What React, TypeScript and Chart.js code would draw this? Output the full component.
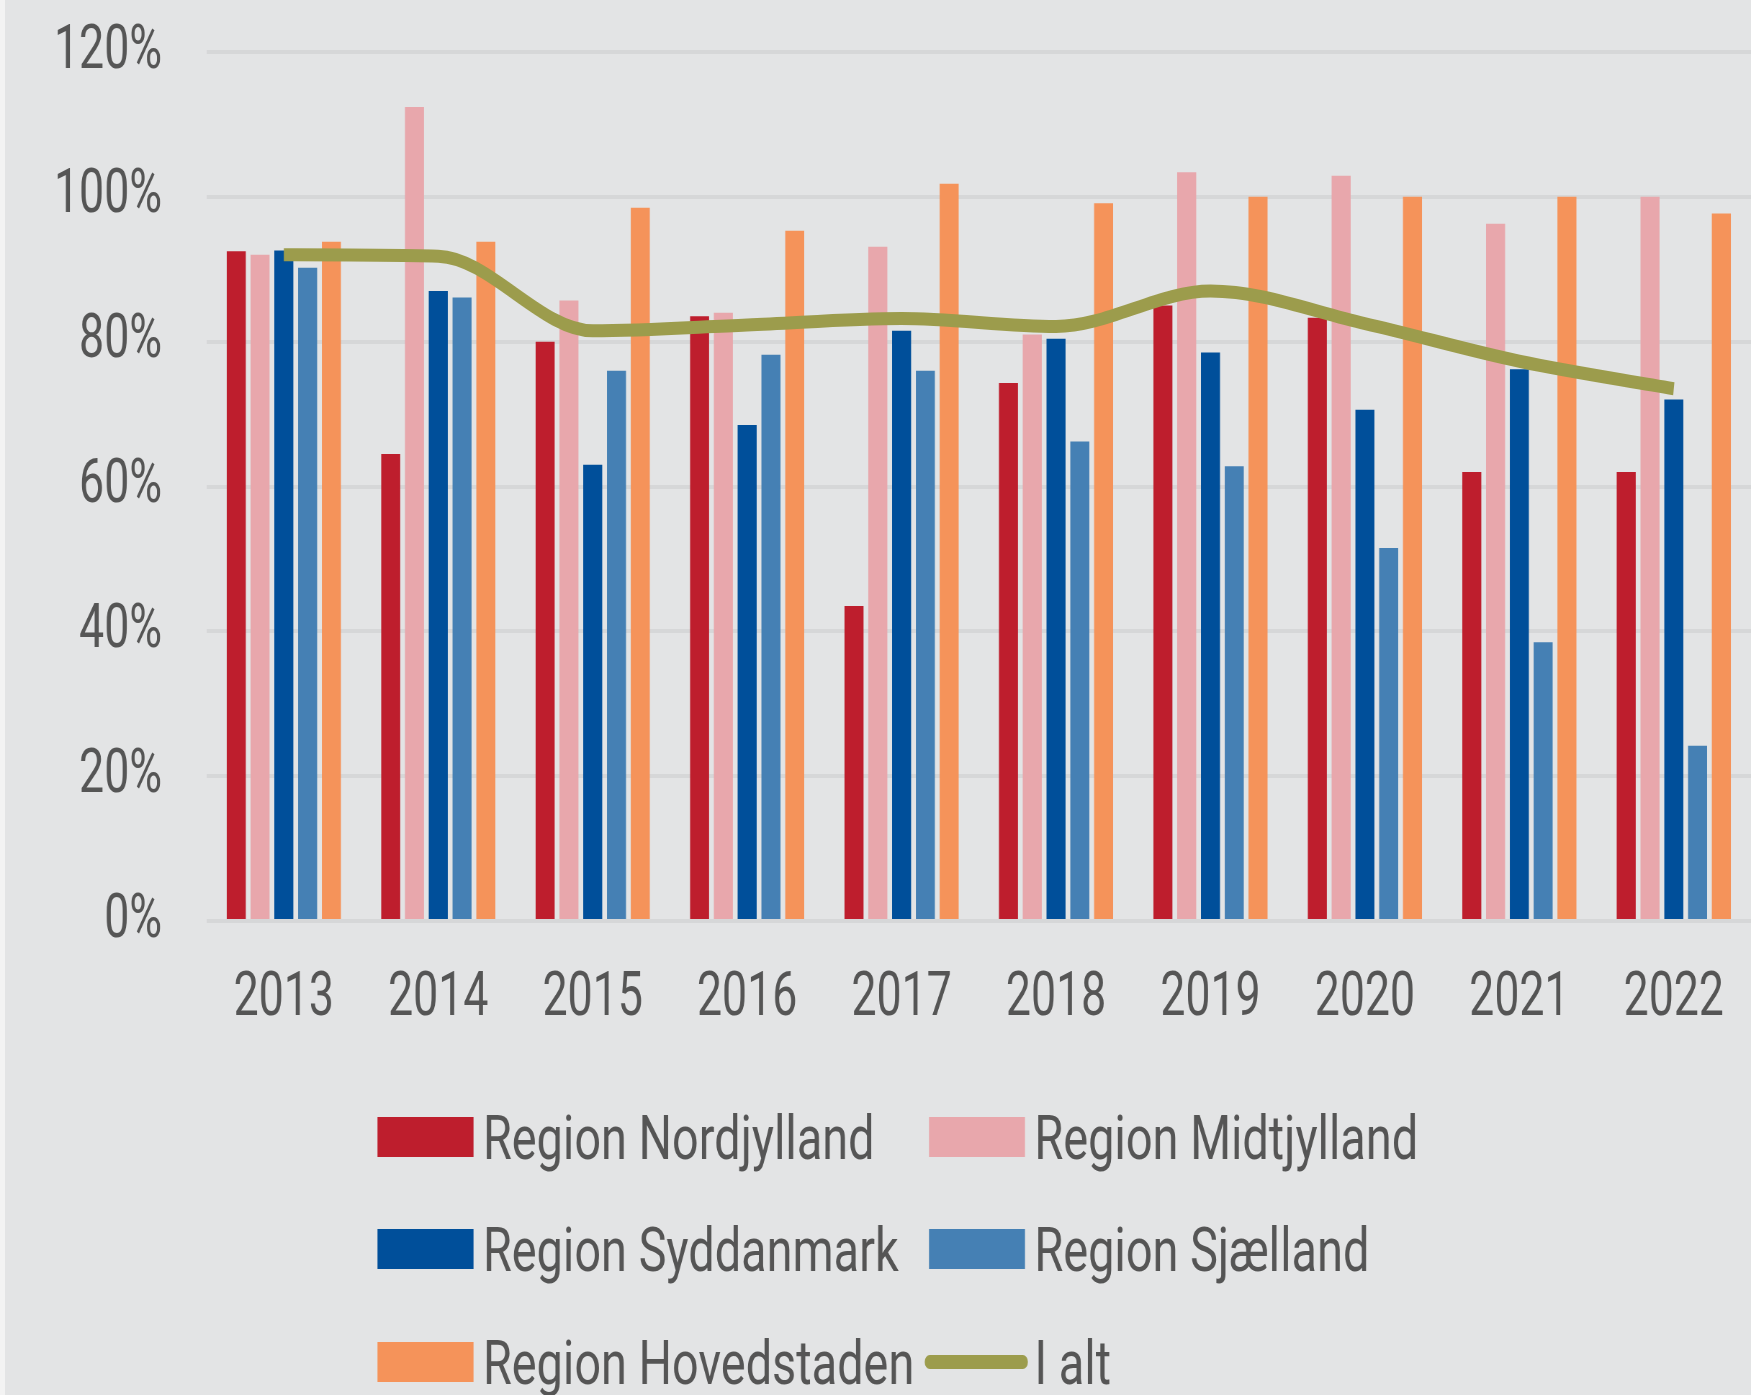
import React, { useEffect, useRef } from "react";
import { Chart, registerables } from "chart.js";

Chart.register(...registerables);

// ---------------- data ----------------
const years = ["2013", "2014", "2015", "2016", "2017", "2018", "2019", "2020", "2021", "2022"];
const nordjylland = [92.5, 64.5, 80.0, 83.5, 43.5, 74.3, 85.0, 83.3, 62.0, 62.0];
const midtjylland = [92.0, 112.4, 85.7, 84.0, 93.1, 81.0, 103.4, 102.9, 96.3, 100.0];
const syddanmark = [92.6, 87.0, 63.0, 68.5, 81.5, 80.4, 78.5, 70.6, 76.2, 72.0];
const sjaelland = [90.2, 86.1, 76.0, 78.2, 76.0, 66.2, 62.8, 51.5, 38.5, 24.2];
const hovedstaden = [93.8, 93.8, 98.5, 95.3, 101.8, 99.1, 100.0, 100.0, 100.0, 97.7];
const iAlt = [92.0, 91.8, 81.5, 82.3, 83.2, 82.1, 87.0, 82.5, 77.3, 73.5];
const yTicks = [0, 20, 40, 60, 80, 100, 120];
const seriesLabels = [
  "Region Nordjylland",
  "Region Midtjylland",
  "Region Syddanmark",
  "Region Sjælland",
  "Region Hovedstaden",
  "I alt",
];

// ---------------- layout / style ----------------
const W_FULL = 1751;
const H = 1395;
const W_PRE = 2432; // canvas drawn wider, then condensed horizontally
const K = W_FULL / W_PRE;
const px = (xFull: number) => xFull / K;

const BG = "#e3e4e5";
const GRID = "#d6d7d8";
const TEXT = "#555555";
const FONT = "Roboto";
const FS = 62;
const colors = ["#be1e2d", "#e8a7ac", "#004f9a", "#4580b4", "#f5935a", "#9c9c4c"];

const AREA_LEFT = px(206.6);
const TOP_PAD = 52;
const AREA_BOTTOM = 921;

const LEG_COL_X = [px(377.5), px(929)];
const LEG_ROW_Y = [1137, 1249, 1362];
const LEG_BOX_W = px(96);
const LEG_BOX_H = 40;
const LEG_GAP = 13;
const LEG_TEXT_STRETCH = 1.05;

const gridLegend = {
  id: "gridLegend",
  afterDraw(chart: any) {
    const ctx = chart.ctx as CanvasRenderingContext2D;
    const ds = chart.data.datasets;
    ctx.save();
    ctx.font = `${FS}px ${FONT}`;
    ctx.textBaseline = "alphabetic";
    ctx.textAlign = "left";
    ds.forEach((d: any, i: number) => {
      const col = i % 2;
      const row = Math.floor(i / 2);
      const bx = LEG_COL_X[col];
      const cy = LEG_ROW_Y[row];
      if (d.type === "line") {
        ctx.strokeStyle = d.borderColor;
        ctx.lineWidth = 14;
        ctx.lineCap = "round";
        ctx.beginPath();
        ctx.moveTo(bx + 1, cy);
        ctx.lineTo(bx + LEG_BOX_W - 3, cy);
        ctx.stroke();
      } else {
        ctx.fillStyle = d.backgroundColor;
        ctx.fillRect(bx, cy - LEG_BOX_H / 2, LEG_BOX_W, LEG_BOX_H);
      }
      ctx.save();
      ctx.translate(bx + LEG_BOX_W + LEG_GAP, cy + (FS * 0.711) / 2);
      ctx.scale(LEG_TEXT_STRETCH, 1);
      ctx.fillStyle = TEXT;
      ctx.fillText(d.label, 0, 0);
      ctx.restore();
    });
    ctx.restore();
  },
};

export default function App() {
  const ref = useRef<HTMLCanvasElement | null>(null);

  useEffect(() => {
    if (!ref.current) return;
    const barSeries = [nordjylland, midtjylland, syddanmark, sjaelland, hovedstaden];
    const datasets: any[] = barSeries.map((data, i) => ({
      type: "bar",
      label: seriesLabels[i],
      data,
      backgroundColor: colors[i],
      borderWidth: 0,
      categoryPercentage: 0.77,
      barPercentage: 0.8,
      order: 1,
    }));
    datasets.push({
      type: "line",
      label: seriesLabels[5],
      data: iAlt,
      borderColor: colors[5],
      backgroundColor: colors[5],
      borderWidth: 13,
      pointRadius: 0,
      pointHoverRadius: 0,
      cubicInterpolationMode: "monotone",
      fill: false,
      order: -1,
    });

    const chart = new Chart(ref.current, {
      type: "bar",
      data: { labels: years, datasets },
      options: {
        responsive: false,
        animation: false,
        devicePixelRatio: 1,
        layout: { autoPadding: false, padding: { left: 0, right: 0, top: TOP_PAD, bottom: 0 } },
        plugins: {
          legend: { display: false },
          tooltip: { enabled: false },
        },
        scales: {
          x: {
            grid: { display: false, drawTicks: false },
            border: { display: false },
            ticks: {
              font: { family: FONT, size: FS },
              color: TEXT,
              padding: 41,
              maxRotation: 0,
              autoSkip: false,
            },
            afterFit: (s: any) => {
              s.height = H - AREA_BOTTOM;
              s.paddingLeft = 0;
              s.paddingRight = 0;
            },
          },
          y: {
            min: 0,
            max: 120,
            afterBuildTicks: (axis: any) => {
              axis.ticks = yTicks.map((v) => ({ value: v }));
            },
            ticks: {
              font: { family: FONT, size: FS },
              color: TEXT,
              padding: 62,
              callback: (v: any) => `${v}%`,
            },
            grid: { color: GRID, lineWidth: 4, drawTicks: false },
            border: { display: false },
            afterFit: (s: any) => {
              s.width = AREA_LEFT;
              s.paddingTop = 0;
              s.paddingBottom = 0;
            },
          },
        },
      } as any,
      plugins: [gridLegend],
    });
    return () => chart.destroy();
  }, []);

  return (
    <div
      style={{
        position: "absolute",
        left: 0,
        top: 0,
        width: W_FULL,
        height: H,
        overflow: "hidden",
        background: BG,
      }}
    >
      <div
        style={{
          width: W_PRE,
          height: H,
          transform: `scaleX(${K})`,
          transformOrigin: "0 0",
        }}
      >
        <canvas ref={ref} width={W_PRE} height={H} style={{ width: W_PRE, height: H, display: "block" }} />
      </div>
      <div style={{ position: "absolute", left: 0, top: 0, width: 5, height: H, background: "#f3f3f3" }} />
    </div>
  );
}
